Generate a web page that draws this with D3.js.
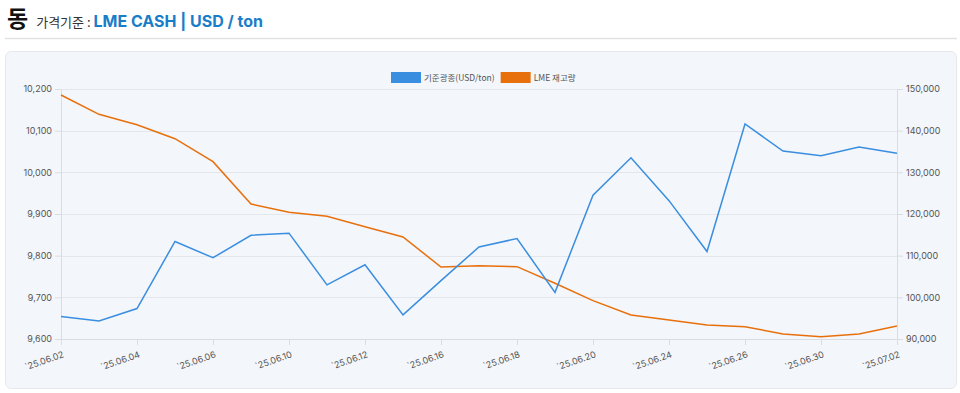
<!DOCTYPE html>
<html>
<head>
<meta charset="utf-8">
<script src="https://cdn.jsdelivr.net/npm/d3@7"></script>
<style>
  body { margin: 0; background: #fff; font-family: "Noto Sans CJK KR", "Noto Sans", sans-serif; }
  svg { display: block; }
</style>
</head>
<body>
<div id="chart"></div>
<script>
// dates (trading days), labels shown every second point
var dates = ["25.06.02","25.06.03","25.06.04","25.06.05","25.06.06","25.06.09","25.06.10","25.06.11",
  "25.06.12","25.06.13","25.06.16","25.06.17","25.06.18","25.06.19","25.06.20","25.06.23",
  "25.06.24","25.06.25","25.06.26","25.06.27","25.06.30","25.07.01","25.07.02"];

// cash price, USD/ton (left axis)
var price = [9654, 9643, 9673, 9834, 9795, 9849, 9854, 9730, 9778, 9658, 9740, 9821,
  9841, 9712, 9945, 10035, 9932, 9810, 10116, 10051, 10040, 10061, 10046];

// LME stock, ton (right axis)
var stock = [148560, 143920, 141430, 138070, 132550, 122400, 120400, 119440, 116950, 114480,
  107280, 107560, 107360, 103370, 99200, 95760, 94560, 93360, 92960, 91200, 90560, 91200, 93120];

var priceTicks = [9600, 9700, 9800, 9900, 10000, 10100, 10200];
var stockTicks = [90000, 100000, 110000, 120000, 130000, 140000, 150000];

var legendItems = [
  { name: "기준광종(USD/ton)", color: "#3a8ee0" },
  { name: "LME 재고량", color: "#e8700c" }
];

var svgWidth = 960, svgHeight = 393;
var margin = { top: 89, right: 63, bottom: 54, left: 61 };
var width = svgWidth - margin.left - margin.right;
var height = svgHeight - margin.top - margin.bottom;

var svg = d3.select("#chart").append("svg")
  .attr("width", svgWidth)
  .attr("height", svgHeight);

// header
var head = svg.append("text").attr("x", 7).attr("y", 27);
head.append("tspan").text("동")
  .attr("font-size", 23).attr("font-weight", 700).attr("fill", "#111");
head.append("tspan").text("가격기준 : ")
  .attr("dx", 8).attr("font-size", 13).attr("fill", "#333");
head.append("tspan").text("LME CASH | USD / ton")
  .attr("font-size", 16).attr("font-weight", 700).attr("fill", "#1a7dc8")
  .attr("font-family", "Inter, 'Noto Sans', sans-serif");

svg.append("line")
  .attr("x1", 5).attr("x2", 957).attr("y1", 38.5).attr("y2", 38.5)
  .attr("stroke", "#e2e2e2").attr("stroke-width", 1.5);

// card
svg.append("rect")
  .attr("x", 5.5).attr("y", 51.5).attr("width", 951).attr("height", 337)
  .attr("rx", 6)
  .attr("fill", "#f3f6fa").attr("stroke", "#e4e8ee");

var chartGroup = svg.append("g")
  .attr("transform", `translate(${margin.left}, ${margin.top})`);

var xScale = d3.scalePoint().domain(dates).range([0, width]);
var yLeft = d3.scaleLinear().domain([9600, 10200]).range([height, 0]);
var yRight = d3.scaleLinear().domain([90000, 150000]).range([height, 0]);

// grid
chartGroup.append("g").selectAll("line")
  .data(priceTicks)
  .join("line")
  .attr("x1", 0).attr("x2", width)
  .attr("y1", d => Math.round(yLeft(d)) + 0.5)
  .attr("y2", d => Math.round(yLeft(d)) + 0.5)
  .attr("stroke", "#e3e6ea");

var fmt = d3.format(",");

// left axis
var leftAxis = chartGroup.append("g")
  .call(d3.axisLeft(yLeft).tickValues(priceTicks).tickFormat(fmt).tickSize(6).tickPadding(3));
// right axis
var rightAxis = chartGroup.append("g")
  .attr("transform", `translate(${width}, 0)`)
  .call(d3.axisRight(yRight).tickValues(stockTicks).tickFormat(fmt).tickSize(6).tickPadding(3));
// bottom axis
var labelDates = dates.filter((d, i) => i % 2 === 0);
var bottomAxis = chartGroup.append("g")
  .attr("transform", `translate(0, ${height})`)
  .call(d3.axisBottom(xScale).tickValues(labelDates).tickFormat(d => "`" + d).tickSize(6).tickPadding(2));

[leftAxis, rightAxis, bottomAxis].forEach(function(ax) {
  ax.select(".domain").attr("stroke", "#d9dde2");
  ax.selectAll(".tick line").attr("stroke", "#d9dde2");
  ax.selectAll("text")
    .attr("fill", "#555")
    .attr("font-size", 9)
    .attr("font-family", "Inter, 'Noto Sans', sans-serif");
});
leftAxis.select(".domain").attr("d", `M0.5,0V${height}`);
rightAxis.select(".domain").attr("d", `M0.5,0V${height}`);
bottomAxis.select(".domain").attr("d", `M0,0.5H${width}`);

bottomAxis.selectAll("text")
  .attr("text-anchor", "end")
  .attr("y", 0)
  .attr("dy", "0.35em")
  .attr("transform", "translate(2, 15) rotate(-19)");

// lines
var priceLine = d3.line()
  .x((d, i) => xScale(dates[i]))
  .y(d => yLeft(d));
var stockLine = d3.line()
  .x((d, i) => xScale(dates[i]))
  .y(d => yRight(d));

chartGroup.append("path")
  .datum(stock)
  .attr("fill", "none")
  .attr("stroke", legendItems[1].color)
  .attr("stroke-width", 1.5)
  .attr("d", stockLine);

chartGroup.append("path")
  .datum(price)
  .attr("fill", "none")
  .attr("stroke", legendItems[0].color)
  .attr("stroke-width", 1.5)
  .attr("d", priceLine);

// legend
var legend = svg.append("g").attr("transform", "translate(391, 72)");
var lx = 0;
legendItems.forEach(function(item, i) {
  var g = legend.append("g").attr("transform", `translate(${lx}, 0)`);
  g.append("rect").attr("width", 30).attr("height", 11).attr("fill", item.color);
  var t = g.append("text").attr("x", 33).attr("y", 9)
    .attr("font-size", 8.5).attr("fill", "#555").text(item.name);
  lx += 33 + t.node().getComputedTextLength() + 6;
});
</script>
</body>
</html>
